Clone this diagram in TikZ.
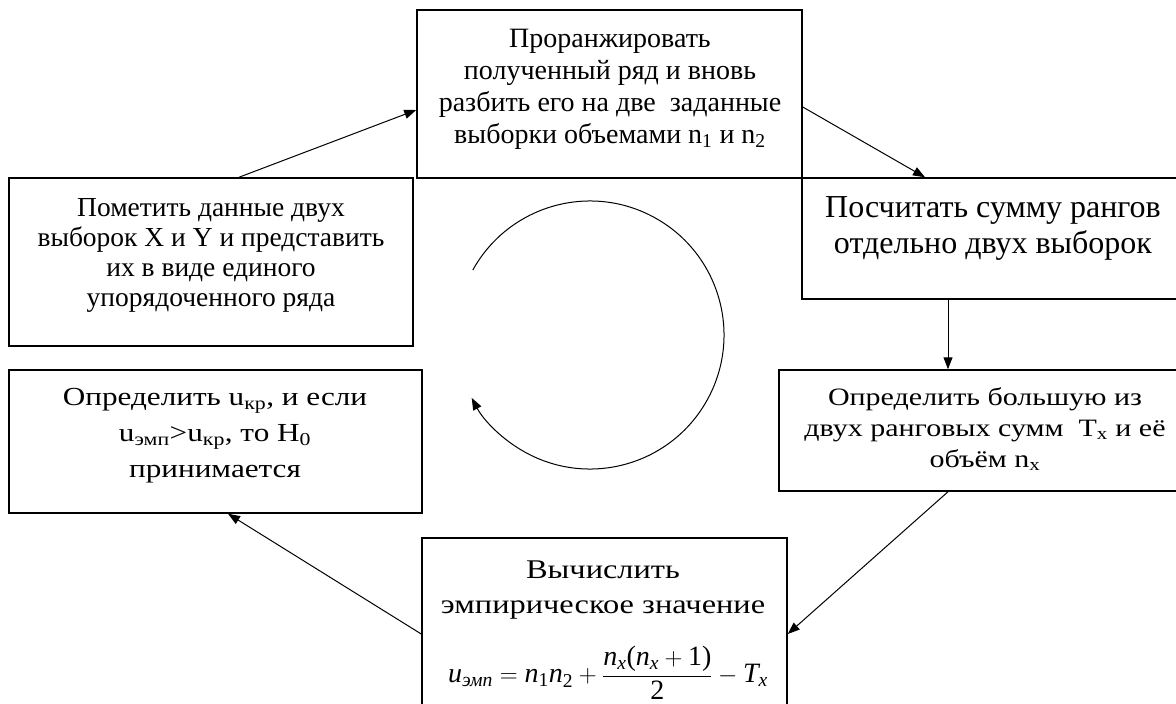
\documentclass[tikz,border=0pt]{standalone}
\usepackage{amsmath}
\usepackage{fontspec}
\setmainfont{Liberation Serif}
\newfontfamily\widefont[FakeStretch=1.2]{Liberation Serif}
\usetikzlibrary{arrows.meta}
\newcommand\fsz[2]{\fontsize{#1}{#2}\selectfont}
\newcommand\mi[1]{\text{\itshape #1}}
\newcommand\tr[1]{\text{\upshape #1}}
\begin{document}
\begin{tikzpicture}[x=1pt,y=-1pt,
  box/.style={draw, line width=1.5pt, inner sep=0pt},
  txt/.style={align=center, inner sep=0pt},
  arr/.style={line width=1pt, -{Triangle[length=12pt,width=9pt]}}]
\useasboundingbox (0,0) rectangle (1176,704);
\clip (0,0) rectangle (1176,704);
% boxes
\node[box, minimum width=385pt, minimum height=168pt] (t) at (609.5,94) {};
\node[box, minimum width=398pt, minimum height=121pt] (s) at (1001,238.5) {};
\node[box, minimum width=421pt, minimum height=121pt] (r) at (989.5,430.5) {};
\node[box, minimum width=365pt, minimum height=182pt] (c) at (604.5,629) {};
\node[box, minimum width=413pt, minimum height=143pt] (k) at (215.5,441.5) {};
\node[box, minimum width=404pt, minimum height=168pt] (p) at (211,262) {};
% texts
\node[txt, font=\fsz{28}{32}] (tt) at (610,89) {Проранжировать\\полученный ряд и вновь\\разбить его на две\ \ заданные\\выборки объемами n\textsubscript{1} и n\textsubscript{2}};
\node[txt, font=\fsz{32}{36}] (st) at (993,228) {Посчитать сумму рангов\\отдельно двух выборок};
\node[txt, font=\widefont\fsz{25}{31}] (rt) at (985,429) {Определить большую из\\двух ранговых сумм\ \ T\textsubscript{x} и её\\объём n\textsubscript{x}};
\node[txt, font=\widefont\fsz{26}{36}] (kt) at (215,436) {Определить u\textsubscript{кр}, и если\\u\textsubscript{эмп}>u\textsubscript{кр}, то H\textsubscript{0}\\принимается};
\node[txt, font=\fsz{27.5}{30}] (pt) at (211,255) {Пометить данные двух\\выборок X и Y и представить\\их в виде единого\\упорядоченного ряда};
\node[txt, font=\widefont\fsz{27}{35}] (ct) at (603,590) {Вычислить\\эмпирическое значение};
\node[txt, font=\fsz{28}{32}] (cf) at (608,673) {$\mi{u}_{\mi{эмп}} = \mi{n}_{\tr{1}}\mi{n}_{\tr{2}} + \dfrac{\mi{n}_{\mi{x}}\tr{(}\mi{n}_{\mi{x}} + \tr{1)}}{\tr{2}} - \mi{T}_{\mi{x}}$};
% connectors
\draw[arr] ([xshift=28pt]p.north) -- ([yshift=-16pt]t.west);
\draw[arr] ([yshift=-13pt]t.east) -- ([xshift=-76pt]s.south |- s.north);
\draw[arr] ([xshift=-53pt]s.south) -- ([xshift=-53pt]s.south |- r.north);
\draw[arr] ([xshift=-41.5pt]r.south) -- ([yshift=-5pt]c.east);
\draw[arr] ([yshift=-5pt]c.west) -- ([xshift=12.5pt]k.south);
% cycle arrow
\coordinate (o) at (590,335);
\draw[arr] (o) ++(-151:134) arc[start angle=-151, end angle=152, radius=134];
\end{tikzpicture}
\end{document}
